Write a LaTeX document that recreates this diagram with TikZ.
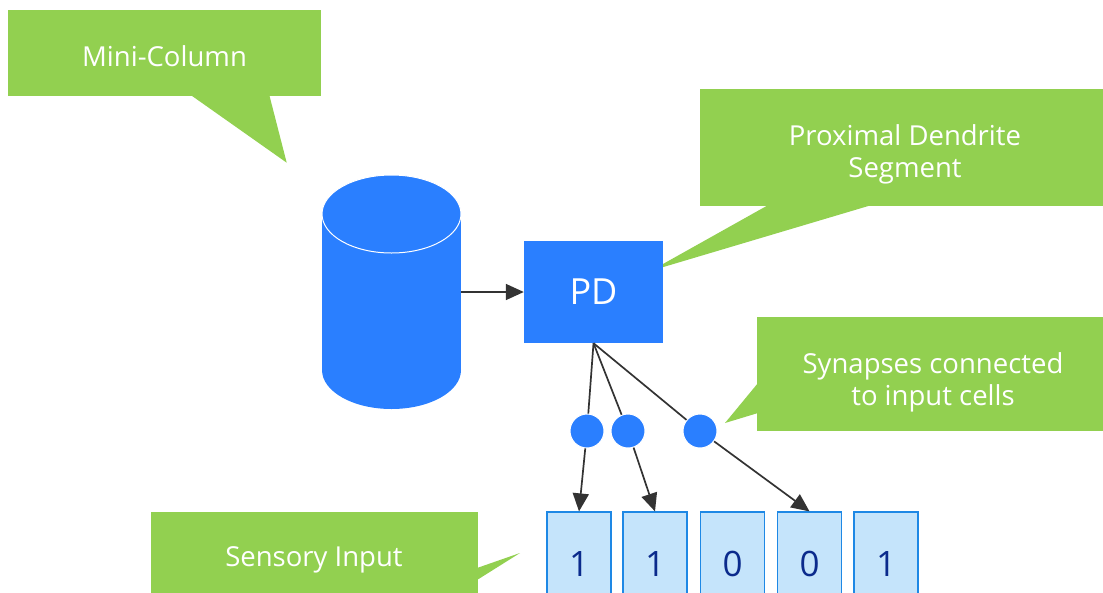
\documentclass[tikz,border=0pt]{standalone}
\usepackage{fontspec}
\setmainfont{Open Sans}
\usetikzlibrary{arrows.meta}
\definecolor{cgreen}{HTML}{92D050}
\definecolor{cblue}{HTML}{2A7FFF}
\definecolor{cellfill}{HTML}{C5E4FB}
\definecolor{cellline}{HTML}{1E88E5}
\definecolor{digit}{HTML}{0B2A8C}
\definecolor{conn}{HTML}{333333}
\begin{document}
\begin{tikzpicture}[x=1pt,y=-1pt,
  callout/.style={fill=cgreen, inner sep=0pt, anchor=north west},
  ctext/.style={text=white, font=\fontsize{27.5}{32}\selectfont, align=center, inner sep=0pt},
  pointer/.style={fill=cgreen},
  cell/.style={draw=cellline, fill=cellfill, line width=1.2pt, minimum width=64pt,
    minimum height=103pt, inner sep=0pt, text=digit, font=\fontsize{35}{40}\selectfont},
  syn/.style={circle, fill=cblue, draw=white, line width=1pt, minimum size=34pt, inner sep=0pt},
  link/.style={draw=conn, line width=1.7pt},
  arr/.style={link, -{Triangle[length=18pt,width=16pt]}}]
\useasboundingbox (0,0) rectangle (1103,592);
\clip (0,0) rectangle (1103,592);

% Mini-Column callout
\node[callout, minimum width=313pt, minimum height=86pt] (mcb) at (8,10) {};
\fill[pointer] (190.7,95) -- (286.7,162.7) -- (269.3,95) -- cycle;
\node[ctext] (mcl) at (164.5,56) {Mini-Column};

% Proximal Dendrite Segment callout
\node[callout, minimum width=410pt, minimum height=117pt] (pdb) at (700,89) {};
\fill[pointer] (768.3,205) -- (651,270.7) -- (871.7,205) -- cycle;
\node[ctext] (pdl) at (905,154.5) {Proximal Dendrite\\Segment};

% Synapses callout
\node[callout, minimum width=353pt, minimum height=114pt] (snb) at (757,317) {};
\fill[pointer] (758,383) -- (725,423) -- (758,413) -- cycle;
\node[ctext] (snl) at (933,382) {Synapses connected\\to input cells};

% Sensory Input callout
\node[callout, minimum width=327pt, minimum height=92pt] (sib) at (151,512) {};
\fill[pointer] (477,568) -- (520,553) -- (477,580) -- cycle;
\node[ctext] (sil) at (314,560) {Sensory Input};

% Mini-column cylinder
\node[minimum width=139pt, minimum height=234pt, inner sep=0pt] (mc) at (391.5,292) {};
\fill[cblue] (391.5,370) ellipse [x radius=69.5, y radius=39];
\fill[cblue] (322,214) rectangle (461,370);
\filldraw[fill=cblue, draw=white, line width=1pt] (391.5,214) ellipse [x radius=69.5, y radius=39];

% PD box
\node[fill=cblue, minimum width=139pt, minimum height=102pt, inner sep=0pt, text=white,
  font=\fontsize{36}{40}\selectfont] (pd) at (593.5,292) {PD};

\draw[arr] (mc.east) -- (pd.west);

% synapses
\node[syn] (s1) at (587,431) {};
\node[syn] (s2) at (628,431) {};
\node[syn] (s3) at (700,431) {};

% input cells
\node[cell] (c1) at (579,563.5) {1};
\node[cell] (c2) at (655,563.5) {1};
\node[cell] (c3) at (732.5,563.5) {0};
\node[cell] (c4) at (809.5,563.5) {0};
\node[cell] (c5) at (886,563.5) {1};

\draw[link] (pd.south) -- (s1);
\draw[link] (pd.south) -- (s2);
\draw[link] (pd.south) -- (s3);
\draw[arr] (s1) -- (c1.north);
\draw[arr] (s2) -- (c2.north);
\draw[arr] (s3) -- (c4.north);
\end{tikzpicture}
\end{document}
